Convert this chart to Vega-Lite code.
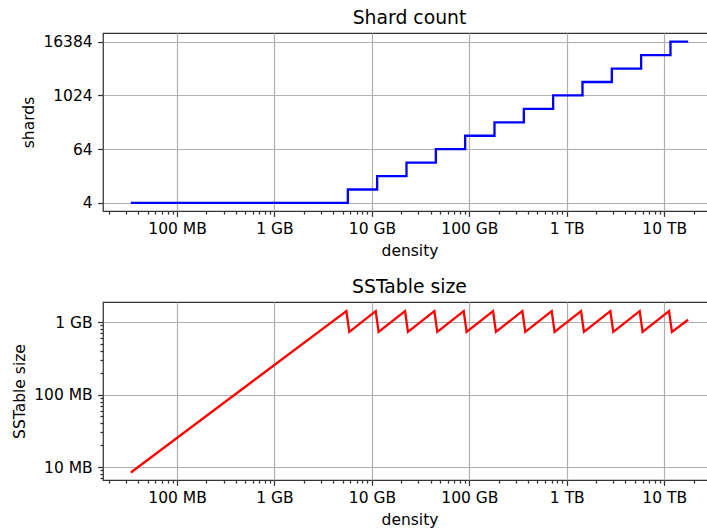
{
  "$schema": "https://vega.github.io/schema/vega-lite/v6.json",
  "autosize": {"type": "none"},
  "padding": {"left": 103, "top": 33, "right": 604, "bottom": 496},
  "background": "white",
  "spacing": 17,
  "datasets": {
    "shards": [
      {"density": 33554432, "shards": 4},
      {"density": 5660000000, "shards": 8},
      {"density": 11320000000, "shards": 16},
      {"density": 22640000000, "shards": 32},
      {"density": 45280000000, "shards": 64},
      {"density": 90560000000, "shards": 128},
      {"density": 181120000000, "shards": 256},
      {"density": 362240000000, "shards": 512},
      {"density": 724480000000, "shards": 1024},
      {"density": 1448960000000, "shards": 2048},
      {"density": 2897920000000, "shards": 4096},
      {"density": 5795840000000, "shards": 8192},
      {"density": 11591680000000, "shards": 16384},
      {"density": 17592186044416, "shards": 16384}
    ],
    "sstable": [
      {"density": 33554432, "size": 8388608},
      {"density": 5469000000, "size": 1415000000},
      {"density": 5858000000, "size": 732300000},
      {"density": 10937000000, "size": 1415000000},
      {"density": 11716000000, "size": 732300000},
      {"density": 21874000000, "size": 1415000000},
      {"density": 23432000000, "size": 732300000},
      {"density": 43749000000, "size": 1415000000},
      {"density": 46865000000, "size": 732300000},
      {"density": 87498000000, "size": 1415000000},
      {"density": 93730000000, "size": 732300000},
      {"density": 174995000000, "size": 1415000000},
      {"density": 187459000000, "size": 732300000},
      {"density": 349990000000, "size": 1415000000},
      {"density": 374920000000, "size": 732300000},
      {"density": 699980000000, "size": 1415000000},
      {"density": 749840000000, "size": 732300000},
      {"density": 1399960000000, "size": 1415000000},
      {"density": 1499670000000, "size": 732300000},
      {"density": 2799920000000, "size": 1415000000},
      {"density": 2999350000000, "size": 732300000},
      {"density": 5599840000000, "size": 1415000000},
      {"density": 5998690000000, "size": 732300000},
      {"density": 11199700000000, "size": 1415000000},
      {"density": 11997400000000, "size": 732300000},
      {"density": 17592186044416, "size": 1073741824}
    ]
  },
  "vconcat": [
    {
      "title": {"text": "Shard count"},
      "width": 613,
      "height": 178,
      "data": {"name": "shards"},
      "mark": {"type": "line", "interpolate": "step-after", "color": "#0000ff", "strokeWidth": 2.3, "clip": true},
      "encoding": {
        "x": {
          "field": "density", "type": "quantitative",
          "scale": {"type": "log", "domain": [17377000, 33990000000000], "nice": false},
          "axis": {
            "title": "density",
            "values": [20000000, 30000000, 40000000, 50000000, 60000000, 70000000, 80000000, 90000000, 100000000, 200000000, 300000000, 400000000, 500000000, 600000000, 700000000, 800000000, 900000000, 1000000000, 2000000000, 3000000000, 4000000000, 5000000000, 6000000000, 7000000000, 8000000000, 9000000000, 10000000000, 20000000000, 30000000000, 40000000000, 50000000000, 60000000000, 70000000000, 80000000000, 90000000000, 100000000000, 200000000000, 300000000000, 400000000000, 500000000000, 600000000000, 700000000000, 800000000000, 900000000000, 1000000000000, 2000000000000, 3000000000000, 4000000000000, 5000000000000, 6000000000000, 7000000000000, 8000000000000, 9000000000000, 10000000000000, 20000000000000, 30000000000000],
            "labelExpr": "datum.value == 1e8 ? '100 MB' : datum.value == 1e9 ? '1 GB' : datum.value == 1e10 ? '10 GB' : datum.value == 1e11 ? '100 GB' : datum.value == 1e12 ? '1 TB' : datum.value == 1e13 ? '10 TB' : ''",
            "tickSize": {"condition": {"test": "indexof([1e8,1e9,1e10,1e11,1e12,1e13], datum.value) >= 0", "value": 5.4}, "value": 3.1},
            "gridOpacity": {"condition": {"test": "indexof([1e8,1e9,1e10,1e11,1e12,1e13], datum.value) >= 0", "value": 1}, "value": 0},
            "labelOverlap": false, "labelFlush": false, "labelBound": false
          }
        },
        "y": {
          "field": "shards", "type": "quantitative",
          "scale": {"type": "log", "base": 2, "domain": [2.64, 25676], "nice": false},
          "axis": {"title": "shards", "values": [4, 64, 1024, 16384], "format": "d", "tickSize": 5.4, "labelOverlap": false, "labelFlush": false}
        }
      }
    },
    {
      "title": {"text": "SSTable size"},
      "width": 613,
      "height": 178,
      "data": {"name": "sstable"},
      "mark": {"type": "line", "color": "#ff0000", "strokeWidth": 2.3, "clip": true},
      "encoding": {
        "x": {
          "field": "density", "type": "quantitative",
          "scale": {"type": "log", "domain": [17377000, 33990000000000], "nice": false},
          "axis": {
            "title": "density",
            "values": [20000000, 30000000, 40000000, 50000000, 60000000, 70000000, 80000000, 90000000, 100000000, 200000000, 300000000, 400000000, 500000000, 600000000, 700000000, 800000000, 900000000, 1000000000, 2000000000, 3000000000, 4000000000, 5000000000, 6000000000, 7000000000, 8000000000, 9000000000, 10000000000, 20000000000, 30000000000, 40000000000, 50000000000, 60000000000, 70000000000, 80000000000, 90000000000, 100000000000, 200000000000, 300000000000, 400000000000, 500000000000, 600000000000, 700000000000, 800000000000, 900000000000, 1000000000000, 2000000000000, 3000000000000, 4000000000000, 5000000000000, 6000000000000, 7000000000000, 8000000000000, 9000000000000, 10000000000000, 20000000000000, 30000000000000],
            "labelExpr": "datum.value == 1e8 ? '100 MB' : datum.value == 1e9 ? '1 GB' : datum.value == 1e10 ? '10 GB' : datum.value == 1e11 ? '100 GB' : datum.value == 1e12 ? '1 TB' : datum.value == 1e13 ? '10 TB' : ''",
            "tickSize": {"condition": {"test": "indexof([1e8,1e9,1e10,1e11,1e12,1e13], datum.value) >= 0", "value": 5.4}, "value": 3.1},
            "gridOpacity": {"condition": {"test": "indexof([1e8,1e9,1e10,1e11,1e12,1e13], datum.value) >= 0", "value": 1}, "value": 0},
            "labelOverlap": false, "labelFlush": false, "labelBound": false
          }
        },
        "y": {
          "field": "size", "type": "quantitative",
          "scale": {"type": "log", "domain": [6620000, 1888000000], "nice": false},
          "axis": {
            "title": "SSTable size",
            "values": [7000000, 8000000, 9000000, 10000000, 20000000, 30000000, 40000000, 50000000, 60000000, 70000000, 80000000, 90000000, 100000000, 200000000, 300000000, 400000000, 500000000, 600000000, 700000000, 800000000, 900000000, 1000000000],
            "labelExpr": "datum.value == 1e7 ? '10 MB' : datum.value == 1e8 ? '100 MB' : datum.value == 1e9 ? '1 GB' : ''",
            "tickSize": {"condition": {"test": "indexof([1e7,1e8,1e9], datum.value) >= 0", "value": 5.4}, "value": 3.1},
            "gridOpacity": {"condition": {"test": "indexof([1e7,1e8,1e9], datum.value) >= 0", "value": 1}, "value": 0},
            "labelOverlap": false, "labelFlush": false, "labelBound": false
          }
        }
      }
    }
  ],
  "config": {
    "font": "DejaVu Sans",
    "view": {"stroke": "#333333", "strokeWidth": 1.24},
    "axis": {
      "domain": false,
      "labelFont": "DejaVu Sans", "labelFontSize": 15.5, "labelColor": "#000000",
      "titleFont": "DejaVu Sans", "titleFontSize": 15.5, "titleFontWeight": "normal", "titleColor": "#000000",
      "tickColor": "#333333", "tickWidth": 1.24, "labelPadding": 5.4, "titlePadding": 6.5,
      "grid": true, "gridColor": "#b0b0b0", "gridWidth": 1.24
    },
    "title": {"font": "DejaVu Sans", "fontSize": 18.8, "fontWeight": "normal", "color": "#000000", "baseline": "alphabetic", "offset": 5, "anchor": "middle"}
  }
}
